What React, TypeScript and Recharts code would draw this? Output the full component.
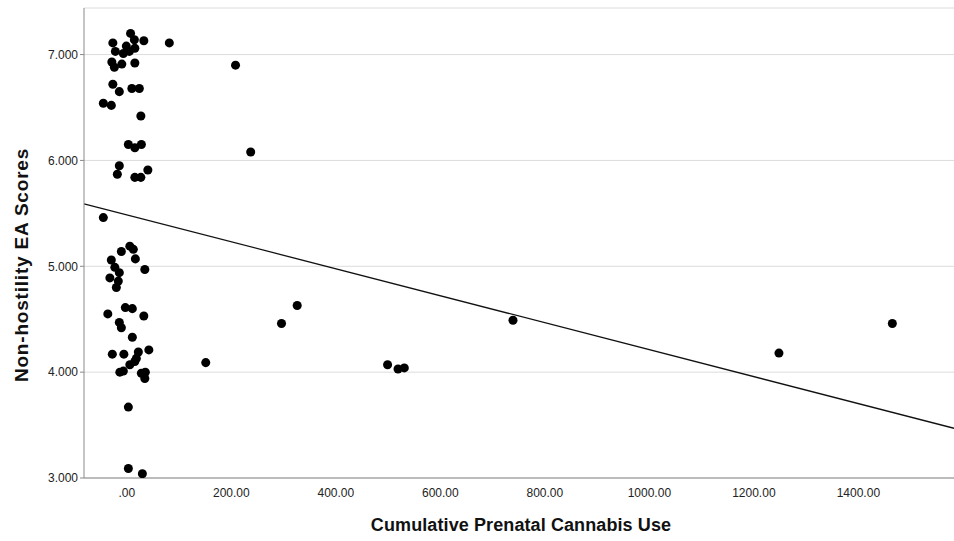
import React from 'react';
import { ScatterChart, Scatter, XAxis, YAxis, CartesianGrid, ReferenceLine } from 'recharts';

const cannabisUse = [
  7.1, -26.8, 32.5, 81.3, -1.0, 14.4, -22.0, -6.7, 4.8, 15.3,
  -28.7, -23.9, -9.6, 15.3, -26.8, -14.4, 9.6, 23.9,
  -45.0, -29.7, 26.8,
  2.9, 15.3, 27.8,
  -14.4, -18.2, 15.3, 26.8, 40.2,
  -45.0,
  -10.5, 5.7, 12.4, 16.3, -29.7, -23.0, -14.4, 34.4, -32.5, -16.3, -20.1,
  -2.9, 10.5, -36.4, 32.5, -14.4, -10.5, 10.5,
  -27.8, -5.7, 22.0, 42.1, 18.2, 15.3, 5.7, -13.4, -6.7, 27.8, 35.4, 34.4,
  2.9, 2.9, 29.7,
  208, 237, 151, 296, 326, 499, 519, 531, 739, 1248, 1465,
];

const eaScores = [
  7.20, 7.11, 7.13, 7.11, 7.08, 7.14, 7.03, 7.01, 7.03, 7.06,
  6.93, 6.88, 6.91, 6.92, 6.72, 6.65, 6.68, 6.68,
  6.54, 6.52, 6.42,
  6.15, 6.12, 6.15,
  5.95, 5.87, 5.84, 5.84, 5.91,
  5.46,
  5.14, 5.19, 5.16, 5.07, 5.06, 4.99, 4.94, 4.97, 4.89, 4.86, 4.80,
  4.61, 4.60, 4.55, 4.53, 4.47, 4.42, 4.33,
  4.17, 4.17, 4.19, 4.21, 4.13, 4.10, 4.07, 4.00, 4.01, 3.99, 4.00, 3.94,
  3.67, 3.09, 3.04,
  6.90, 6.08, 4.09, 4.46, 4.63, 4.07, 4.03, 4.04, 4.49, 4.18, 4.46,
];

const xTicks = [0, 200, 400, 600, 800, 1000, 1200, 1400];
const yTicks = [3, 4, 5, 6, 7];
const xDomain = [-82, 1583];
const yDomain = [3, 7.44];
const fitLineX = [-82, 1583];
const fitLineY = [5.59, 3.47];

const points = cannabisUse.map((x, i) => ({ x, y: eaScores[i] }));

const fmtX = (v: number) => (v === 0 ? '.00' : v.toFixed(2));
const fmtY = (v: number) => v.toFixed(3);

const FONT = "'Liberation Sans', Arial, sans-serif";

const YLabel = (props: any) => {
  const vb = props.viewBox || { x: 0, y: 0, width: 84, height: 470 };
  const cx = vb.x + 21;
  const cy = vb.y + vb.height / 2 + 22;
  return (
    <text
      x={cx}
      y={cy}
      transform={`rotate(-90 ${cx} ${cy})`}
      textAnchor="middle"
      dominantBaseline="central"
      fontFamily={FONT}
      fontSize={19}
      fontWeight="bold"
      letterSpacing={0.8}
      fill="#111"
    >
      Non-hostility EA Scores
    </text>
  );
};

const XLabel = (props: any) => {
  const vb = props.viewBox || { x: 84, y: 478, width: 870, height: 63 };
  const cx = vb.x + vb.width / 2 + 2;
  const cy = vb.y + vb.height - 10;
  return (
    <text
      x={cx}
      y={cy}
      textAnchor="middle"
      fontFamily={FONT}
      fontSize={18}
      fontWeight="bold"
      letterSpacing={0.1}
      fill="#111"
    >
      Cumulative Prenatal Cannabis Use
    </text>
  );
};

export default function App() {
  return (
    <div style={{ position: 'absolute', left: 0, top: 0, background: '#fff' }}>
      <ScatterChart
        width={954}
        height={541}
        margin={{ top: 8, right: 0, bottom: 0, left: 0 }}
        style={{ fontFamily: FONT }}
      >
        <CartesianGrid vertical={false} stroke="#dcdcdc" strokeWidth={1} />
        <XAxis
          type="number"
          dataKey="x"
          domain={xDomain}
          ticks={xTicks}
          tickFormatter={fmtX}
          allowDataOverflow
          height={63}
          tickLine={false}
          tickSize={4}
          tickMargin={6}
          stroke="#8a8a8a"
          tick={{ fill: '#222', fontSize: 12 }}
          label={<XLabel />}
        />
        <YAxis
          type="number"
          dataKey="y"
          domain={yDomain}
          ticks={yTicks}
          tickFormatter={fmtY}
          allowDataOverflow
          width={84}
          tickSize={4}
          tickMargin={2}
          stroke="#8a8a8a"
          tick={{ fill: '#222', fontSize: 12 }}
          label={<YLabel />}
        />
        <ReferenceLine
          segment={[
            { x: fitLineX[0], y: fitLineY[0] },
            { x: fitLineX[1], y: fitLineY[1] },
          ]}
          stroke="#111"
          strokeWidth={1.3}
          ifOverflow="visible"
        />
        <Scatter data={points} fill="#000" isAnimationActive={false} />
      </ScatterChart>
    </div>
  );
}
